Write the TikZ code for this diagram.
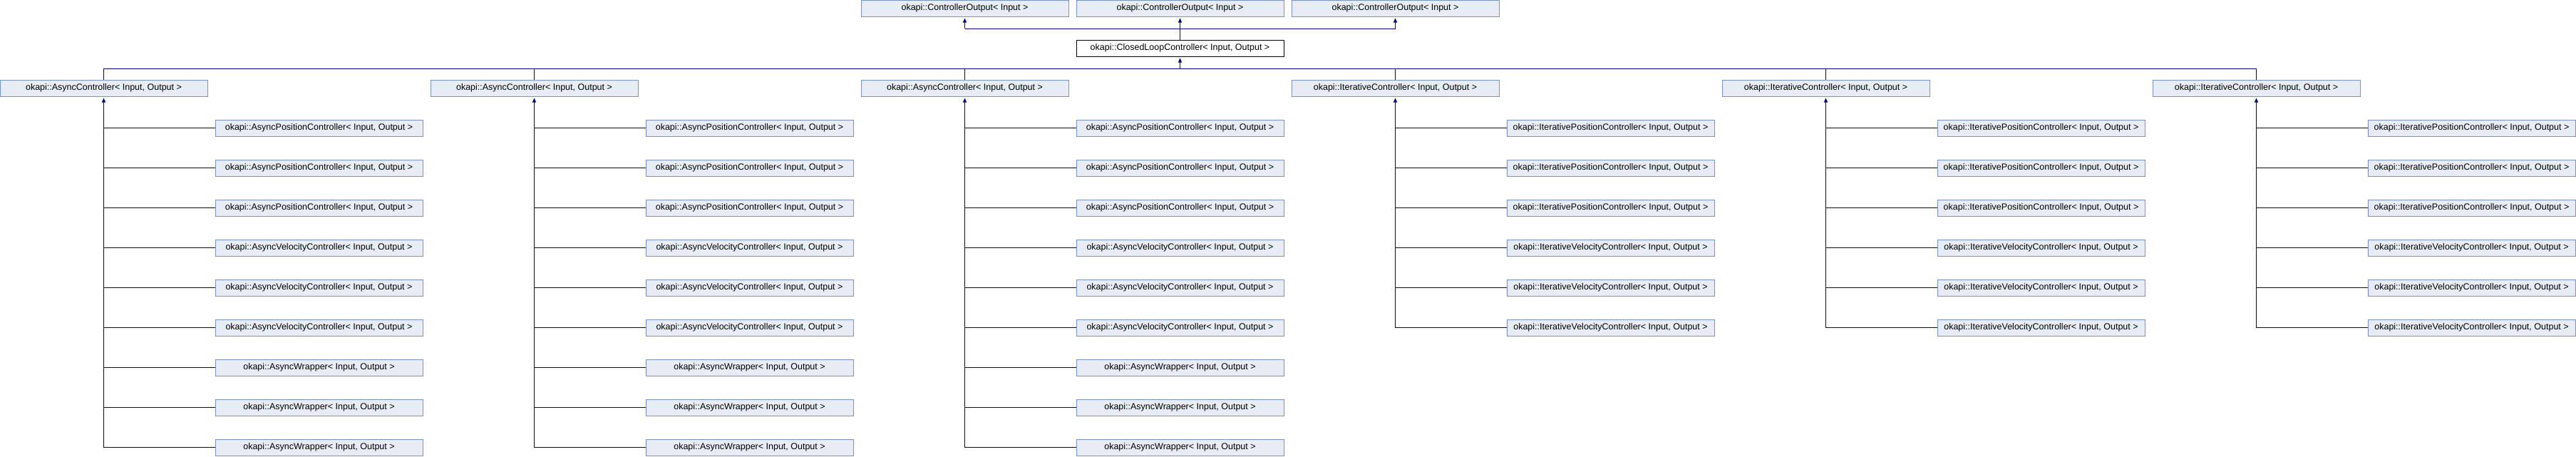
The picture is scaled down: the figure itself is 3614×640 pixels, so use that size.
\documentclass[tikz,border=0pt]{standalone}
\usepackage{fontspec}
\setmainfont{Liberation Sans}
\usetikzlibrary{arrows.meta,calc}
\definecolor{boxfill}{RGB}{232,236,245}
\definecolor{boxline}{RGB}{120,146,204}
\definecolor{linkcol}{RGB}{0,0,140}
\tikzset{
 cls/.style={rectangle, draw=boxline, fill=boxfill, line width=1pt, minimum width=291pt, minimum height=23pt, inner sep=0pt, font=\fontsize{12.5}{15}\selectfont},
 curcls/.style={cls, draw=black, fill=white},
 conn/.style={draw=linkcol, line width=1pt},
 arrowup/.style={conn, -{Triangle[length=6pt,width=5pt]}, shorten >=2pt},
}
\begin{document}
\begin{tikzpicture}[x=1pt,y=-1pt]
\useasboundingbox (0,0) rectangle (3614,640);
% top level
\node[cls] (t1) at (1353.5,11.5) {okapi::ControllerOutput< Input >};
\node[cls] (t2) at (1655.5,11.5) {okapi::ControllerOutput< Input >};
\node[cls] (t3) at (1957.5,11.5) {okapi::ControllerOutput< Input >};
\node[curcls] (cl) at (1655.5,67.5) {okapi::ClosedLoopController< Input, Output >};
\coordinate (bar1) at (0,40);
\coordinate (bar2) at (0,96);
\draw[conn] (t1.south |- bar1) -- (t3.south |- bar1);
\draw[arrowup] (t1.south |- bar1) -- (t1.south);
\draw[arrowup] (t3.south |- bar1) -- (t3.south);
\draw[arrowup] (cl.north) -- (t2.south);
% second level
\foreach \i/\nm in {1/Async,2/Async,3/Async,4/Iterative,5/Iterative,6/Iterative}{
  \node[cls] (g\i) at ({145.5+604*(\i-1)},123.5) {okapi::\nm Controller< Input, Output >};
  \draw[conn] (g\i.north |- bar2) -- (g\i.north);
}
\draw[conn] (g1.north |- bar2) -- (g6.north |- bar2);
\draw[arrowup] (cl.south |- bar2) -- (cl.south);
% async children
\foreach \i in {1,2,3}{
  \foreach \nm [count=\j] in {AsyncPositionController,AsyncPositionController,AsyncPositionController,AsyncVelocityController,AsyncVelocityController,AsyncVelocityController,AsyncWrapper,AsyncWrapper,AsyncWrapper}{
    \node[cls] (c\i-\j) at ({447.5+604*(\i-1)},{179.5+56*(\j-1)}) {okapi::\nm< Input, Output >};
    \draw[conn] (c\i-\j.west -| g\i.south) -- (c\i-\j.west);
  }
  \draw[arrowup] (c\i-9.west -| g\i.south) -- (g\i.south);
}
% iterative children
\foreach \i in {4,5,6}{
  \foreach \nm [count=\j] in {IterativePositionController,IterativePositionController,IterativePositionController,IterativeVelocityController,IterativeVelocityController,IterativeVelocityController}{
    \node[cls] (c\i-\j) at ({447.5+604*(\i-1)},{179.5+56*(\j-1)}) {okapi::\nm< Input, Output >};
    \draw[conn] (c\i-\j.west -| g\i.south) -- (c\i-\j.west);
  }
  \draw[arrowup] (c\i-6.west -| g\i.south) -- (g\i.south);
}
\end{tikzpicture}
\end{document}
